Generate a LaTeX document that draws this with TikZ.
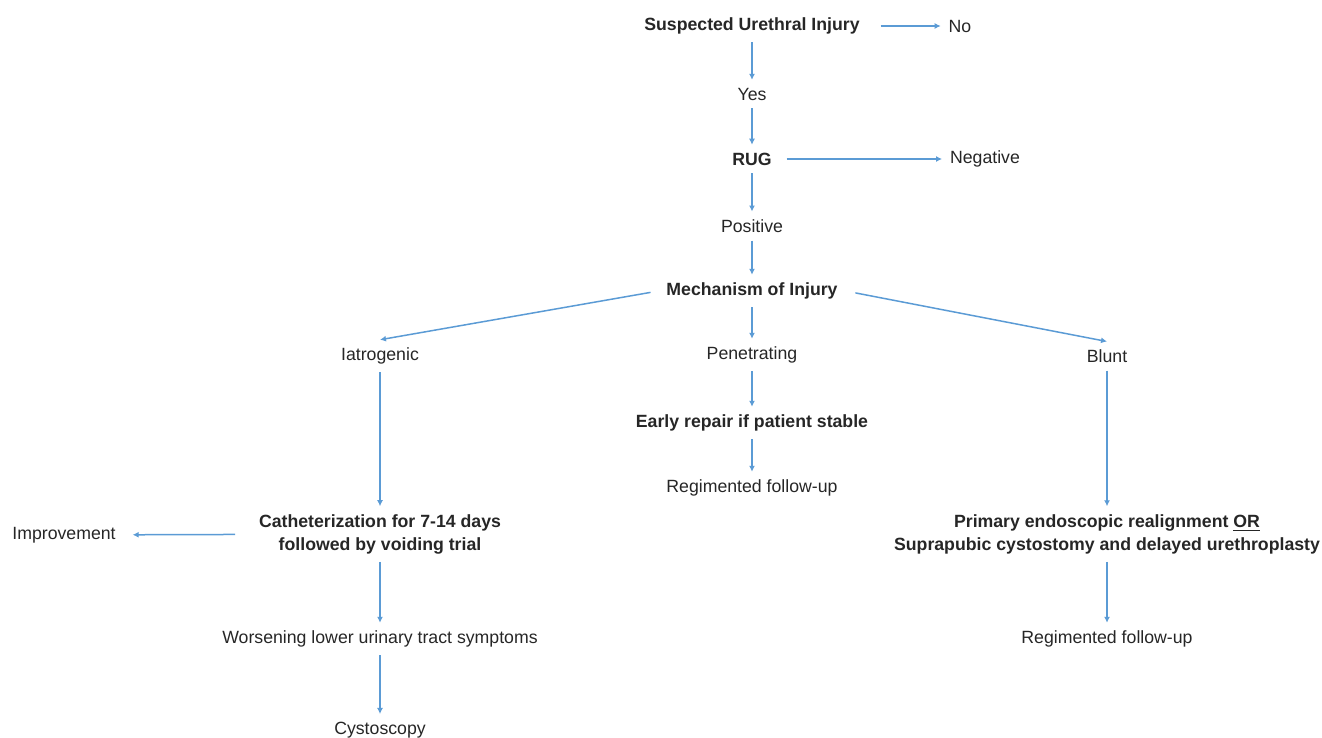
\documentclass[tikz,border=0pt]{standalone}
\usepackage{fontspec}
\setmainfont{Liberation Sans}
\usepackage{xcolor}
\usetikzlibrary{arrows.meta}
\definecolor{arrowblue}{RGB}{91,155,213}

\begin{document}
\begin{tikzpicture}[x=0.5pt,y=-0.5pt,
  txt/.style={inner sep=4pt, outer sep=0pt, align=center, text=black!85,
    font=\fontsize{8.85}{11.5}\selectfont},
  hd/.style={txt, font=\fontsize{8.85}{11.5}\selectfont\bfseries},
  arr/.style={arrowblue, line width=0.75pt, -{Latex[length=3pt,width=3pt]}}]

\useasboundingbox (0,0) rectangle (1322,738);

% top of the chart
\node[hd] (sus) at (752,26) {Suspected Urethral Injury};
\node[txt] (no) at (960,26) {No};
\node[txt] (yes) at (752,94) {Yes};
\node[hd] (rug) at (752,159) {RUG};
\node[txt] (neg) at (985,159) {Negative};
\node[txt] (pos) at (752,226) {Positive};
\node[hd] (mech) at (752,291) {Mechanism of Injury};

% three branches
\node[txt] (iat) at (380,356) {Iatrogenic};
\node[txt] (pen) at (752,355) {Penetrating};
\node[txt] (blunt) at (1107,356) {Blunt};

\node[hd] (cath) at (380,534) {Catheterization for 7-14 days\\followed by voiding trial};
\node[txt] (imp) at (64,535) {Improvement};
\node[txt] (wors) at (380,639) {Worsening lower urinary tract symptoms};
\node[txt] (cyst) at (380,730) {Cystoscopy};

\node[hd] (early) at (752,423) {Early repair if patient stable};
\node[txt] (regA) at (752,488) {Regimented follow-up};

\node[hd] (prim) at (1107,534) {Primary endoscopic realignment \underline{OR}\\Suprapubic cystostomy and delayed urethroplasty};
\node[txt] (regB) at (1107,639) {Regimented follow-up};

% arrows
\draw[arr, shorten <=6.5pt] (sus) -- (no);
\draw[arr] (sus) -- (yes);
\draw[arr] (yes) -- (rug);
\draw[arr, shorten <=3.5pt] (rug) -- (neg);
\draw[arr] (rug) -- (pos);
\draw[arr] (pos) -- (mech);

\draw[arr, shorten <=4pt] (mech.west) -- (iat.north);
\draw[arr] (mech) -- (pen);
\draw[arr, shorten <=5pt] (mech.east) -- (blunt.north);

\draw[arr] (iat) -- (cath);
\draw[arr, shorten <=8pt, shorten >=4.5pt] (cath) -- (imp);
\draw[arr] (cath) -- (wors);
\draw[arr] (wors) -- (cyst);

\draw[arr] (pen) -- (early);
\draw[arr] (early) -- (regA);

\draw[arr] (blunt) -- (prim);
\draw[arr] (prim) -- (regB);

\end{tikzpicture}
\end{document}
